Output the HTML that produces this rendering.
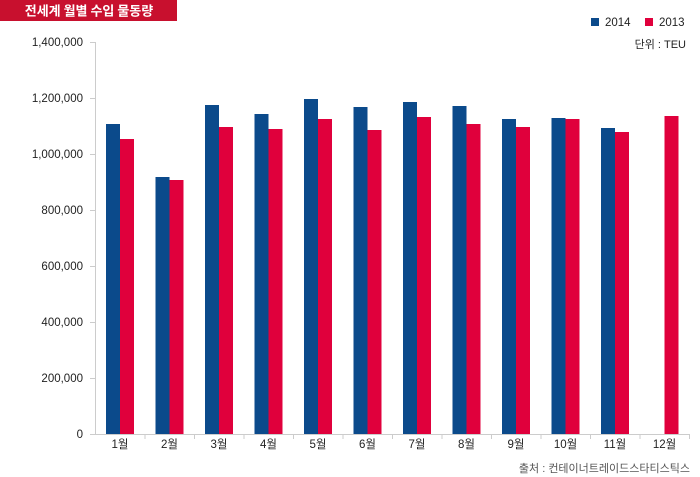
<!DOCTYPE html>
<html><head><meta charset="utf-8"><style>html,body{margin:0;padding:0;background:#fff;}svg{display:block}</style></head>
<body>
<svg width="700" height="477" xmlns="http://www.w3.org/2000/svg" font-family="'Liberation Sans','Noto Sans CJK KR',sans-serif">
<rect x="0" y="0" width="177" height="21" fill="#c8102e"/>
<text x="89" y="15.5" font-size="13" font-weight="bold" fill="#fff" text-anchor="middle" font-family="'Noto Sans CJK KR',sans-serif">전세계 월별 수입 물동량</text>
<g font-size="11.5" fill="#222" text-anchor="end">
<text x="83" y="46">1,400,000</text>
<text x="83" y="102">1,200,000</text>
<text x="83" y="158">1,000,000</text>
<text x="83" y="214">800,000</text>
<text x="83" y="270">600,000</text>
<text x="83" y="326">400,000</text>
<text x="83" y="382">200,000</text>
<text x="83" y="438">0</text>
</g>
<g stroke="#ccc" stroke-width="1">
<line x1="95.5" y1="42" x2="95.5" y2="434"/>
<line x1="90" y1="42.5" x2="95" y2="42.5"/><line x1="90" y1="98.5" x2="95" y2="98.5"/><line x1="90" y1="154.5" x2="95" y2="154.5"/><line x1="90" y1="210.5" x2="95" y2="210.5"/><line x1="90" y1="266.5" x2="95" y2="266.5"/><line x1="90" y1="322.5" x2="95" y2="322.5"/><line x1="90" y1="378.5" x2="95" y2="378.5"/>
<line x1="90" y1="434.5" x2="690" y2="434.5"/>
</g>
<g id="bars"></g>
<g font-size="11.5" fill="#222" text-anchor="middle" font-family="'Liberation Sans','Noto Sans CJK KR',sans-serif" id="labels"></g>
<rect x="591" y="18" width="8" height="8" fill="#0b4a8b"/>
<text x="605" y="26" font-size="11.5" fill="#222">2014</text>
<rect x="645" y="18" width="8" height="8" fill="#e0003c"/>
<text x="659" y="26" font-size="11.5" fill="#222">2013</text>
<text x="686" y="48" font-size="11" fill="#222" text-anchor="end">단위 : TEU</text>
<text x="690" y="472" font-size="11" fill="#555" text-anchor="end">출처 : 컨테이너트레이드스타티스틱스</text>
<script>
var b=[124,177,105,114,99,107,102,106,119,118,128,null];
var r=[139,180,127,129,119,130,117,124,127,119,132,116];
var g=document.getElementById('bars'),L=document.getElementById('labels'),ns='http://www.w3.org/2000/svg';
for(var i=0;i<12;i++){var x=106+i*49.5;
if(b[i]!==null){var e=document.createElementNS(ns,'rect');e.setAttribute('x',x);e.setAttribute('y',b[i]);e.setAttribute('width',14);e.setAttribute('height',434-b[i]);e.setAttribute('fill','#0b4a8b');g.appendChild(e);}
var f=document.createElementNS(ns,'rect');f.setAttribute('x',x+14);f.setAttribute('y',r[i]);f.setAttribute('width',14);f.setAttribute('height',434-r[i]);f.setAttribute('fill','#e0003c');g.appendChild(f);
var t=document.createElementNS(ns,'text');t.setAttribute('x',x+14);t.setAttribute('y',448);t.textContent=(i+1)+'월';L.appendChild(t);
var k=document.createElementNS(ns,'line');k.setAttribute('x1',95+(i+1)*49.5+0.5);k.setAttribute('x2',95+(i+1)*49.5+0.5);k.setAttribute('y1',434);k.setAttribute('y2',439);k.setAttribute('stroke','#ccc');g.appendChild(k);}
</script>
</svg>
</body></html>
